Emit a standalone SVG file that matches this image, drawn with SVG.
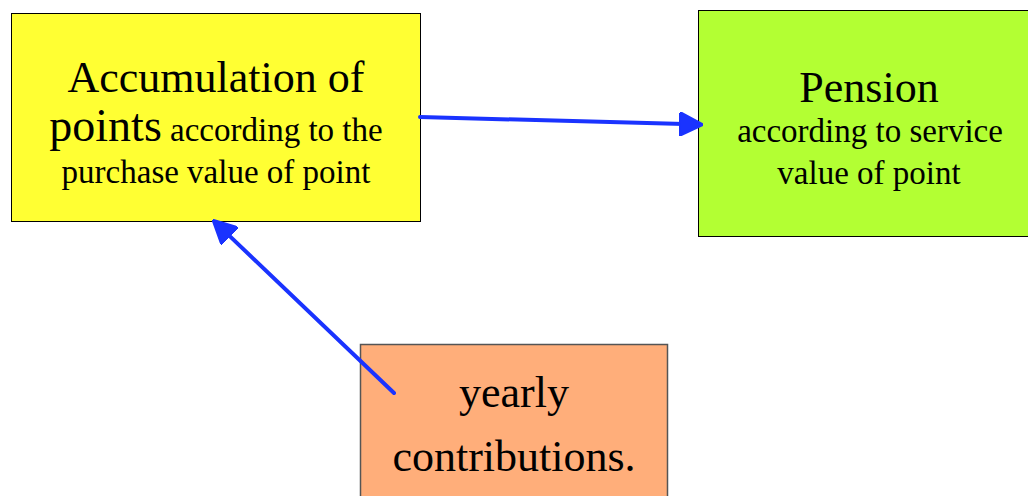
<svg xmlns="http://www.w3.org/2000/svg" width="1028" height="496" viewBox="0 0 1028 496">
<style>
.t{font-family:"Liberation Serif","Times New Roman",serif;fill:#000;text-anchor:middle}
.big{font-size:44px}
.big2{font-size:46px}
.small{font-size:33px}
.box{stroke:#000;stroke-width:1}
.conn{stroke:#1a33ff;stroke-width:4;fill:none;stroke-linecap:round}
</style>
<defs>
<marker id="ah" markerUnits="userSpaceOnUse" markerWidth="24" markerHeight="24" viewBox="0 0 20 20" refX="4" refY="10" orient="auto">
<path d="M0,0 L20,10 L0,20 z" fill="#1a33ff" stroke="#1a33ff" stroke-width="2" stroke-linejoin="round"/>
</marker>
</defs>
<rect width="1028" height="496" fill="#fff"/>
<g id="node-accumulation">
<rect class="box" x="11.5" y="13.5" width="409" height="208" fill="#ffff33"/>
<text class="t big" x="216" y="92">Accumulation of</text>
<text class="t" x="216" y="141"><tspan class="big2">points</tspan><tspan class="small"> according to the</tspan></text>
<text class="t small" x="216" y="183">purchase value of point</text>
</g>
<g id="node-pension">
<rect class="box" x="698.5" y="10.5" width="330" height="226" fill="#b3ff33"/>
<text class="t big" x="869" y="102">Pension</text>
<text class="t small" x="870" y="142">according to service</text>
<text class="t small" x="869" y="184">value of point</text>
</g>
<g id="node-contributions">
<rect x="360.5" y="344.5" width="307" height="160" fill="#ffae7a" stroke="#555" stroke-width="1.5"/>
<text class="t big" x="514" y="407">yearly</text>
<text class="t big" x="514" y="471">contributions.</text>
</g>
<g id="connectors">
<line class="conn" x1="420" y1="117" x2="684" y2="124.1" marker-end="url(#ah)"/>
<line class="conn" x1="394" y1="393" x2="226.6" y2="233.1" marker-end="url(#ah)"/>
</g>
</svg>
